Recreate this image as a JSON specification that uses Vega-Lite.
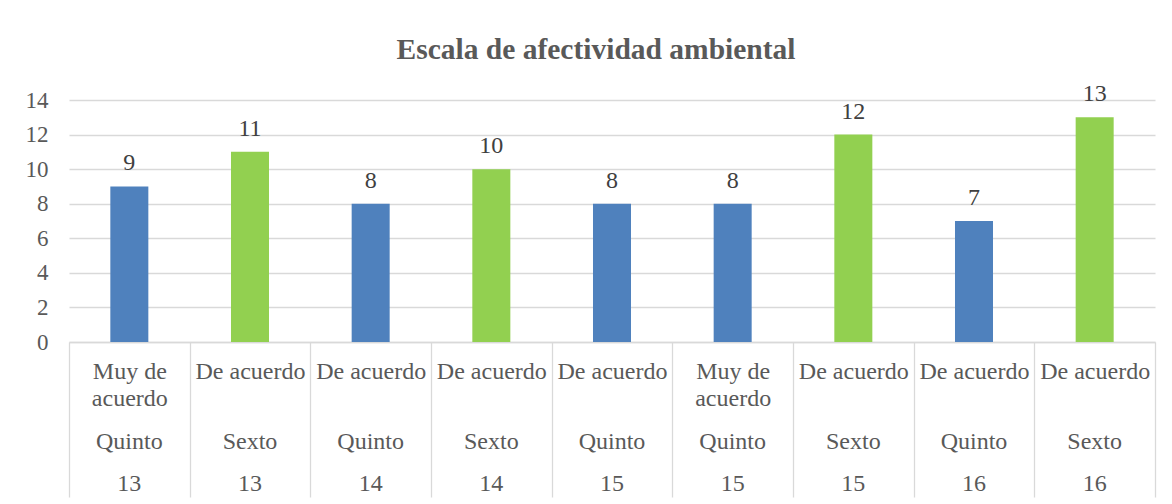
{
  "$schema": "https://vega.github.io/schema/vega-lite/v6.json",
  "width": 1086,
  "height": 242,
  "autosize": {"type": "none"},
  "padding": {"left": 69, "top": 100, "right": 17, "bottom": 162},
  "background": "white",
  "config": {"view": {"stroke": null}},
  "title": {
    "text": "Escala de afectividad ambiental",
    "font": "Liberation Serif",
    "fontSize": 29.5,
    "fontWeight": "bold",
    "color": "#595959",
    "anchor": "middle",
    "frame": "group",
    "baseline": "alphabetic",
    "offset": -6,
    "dx": -16
  },
  "data": {
    "values": [
      {"cat": "Muy de acuerdo|Quinto|13", "nivel": "Muy de acuerdo", "grado": "Quinto", "edad": "13", "valor": 9},
      {"cat": "De acuerdo|Sexto|13", "nivel": "De acuerdo", "grado": "Sexto", "edad": "13", "valor": 11},
      {"cat": "De acuerdo|Quinto|14", "nivel": "De acuerdo", "grado": "Quinto", "edad": "14", "valor": 8},
      {"cat": "De acuerdo|Sexto|14", "nivel": "De acuerdo", "grado": "Sexto", "edad": "14", "valor": 10},
      {"cat": "De acuerdo|Quinto|15", "nivel": "De acuerdo", "grado": "Quinto", "edad": "15", "valor": 8},
      {"cat": "Muy de acuerdo|Quinto|15", "nivel": "Muy de acuerdo", "grado": "Quinto", "edad": "15", "valor": 8},
      {"cat": "De acuerdo|Sexto|15", "nivel": "De acuerdo", "grado": "Sexto", "edad": "15", "valor": 12},
      {"cat": "De acuerdo|Quinto|16", "nivel": "De acuerdo", "grado": "Quinto", "edad": "16", "valor": 7},
      {"cat": "De acuerdo|Sexto|16", "nivel": "De acuerdo", "grado": "Sexto", "edad": "16", "valor": 13}
    ]
  },
  "encoding": {
    "y": {
      "field": "valor",
      "type": "quantitative",
      "scale": {"domain": [0, 14], "nice": false},
      "axis": {
        "title": null,
        "values": [0, 2, 4, 6, 8, 10, 12, 14],
        "domain": false,
        "ticks": false,
        "grid": true,
        "gridColor": "#D9D9D9",
        "gridWidth": 1.3,
        "labelFont": "Liberation Serif",
        "labelFontSize": 23,
        "labelColor": "#595959",
        "labelPadding": 21
      }
    }
  },
  "resolve": {"axis": {"x": "independent"}},
  "layer": [
    {
      "mark": {"type": "bar", "width": {"band": 0.315}},
      "encoding": {
        "x": {
          "field": "cat",
          "type": "nominal",
          "sort": null,
          "scale": {"paddingInner": 0, "paddingOuter": 0},
          "axis": {
            "orient": "bottom",
            "title": null,
            "labelAngle": 0,
            "labelOverlap": false,
            "labelLimit": 0,
            "labelFont": "Liberation Serif",
            "labelFontSize": 24,
            "labelColor": "#595959",
            "labelBaseline": "alphabetic",
            "labelLineHeight": 27.5,
            "labelPadding": -119,
            "labelExpr": "!isString(datum.value) ? '' : (split(datum.value,'|')[0] == 'Muy de acuerdo' ? ['Muy de','acuerdo'] : split(datum.value,'|')[0])",
            "tickBand": "extent",
            "tickSize": 155,
            "tickColor": "#D9D9D9",
            "tickWidth": 1.3,
            "domainColor": "#D9D9D9",
            "domainWidth": 1.3,
            "grid": false
          }
        },
        "color": {
          "field": "grado",
          "type": "nominal",
          "scale": {"domain": ["Quinto", "Sexto"], "range": ["#4F81BD", "#92D050"]},
          "legend": null
        }
      }
    },
    {
      "mark": {
        "type": "text",
        "font": "Liberation Serif",
        "fontSize": 24,
        "color": "#404040",
        "baseline": "alphabetic",
        "dy": -16
      },
      "encoding": {
        "x": {
          "field": "cat",
          "type": "nominal",
          "sort": null,
          "axis": {
            "orient": "bottom",
            "title": null,
            "labelAngle": 0,
            "labelOverlap": false,
            "labelLimit": 0,
            "labelFont": "Liberation Serif",
            "labelFontSize": 24,
            "labelColor": "#595959",
            "labelBaseline": "alphabetic",
            "labelLineHeight": 42,
            "labelPadding": 106,
            "labelExpr": "!isString(datum.value) ? '' : [split(datum.value,'|')[1], split(datum.value,'|')[2]]",
            "ticks": false,
            "domain": false,
            "grid": false
          }
        },
        "text": {"field": "valor", "type": "quantitative"}
      }
    }
  ]
}
